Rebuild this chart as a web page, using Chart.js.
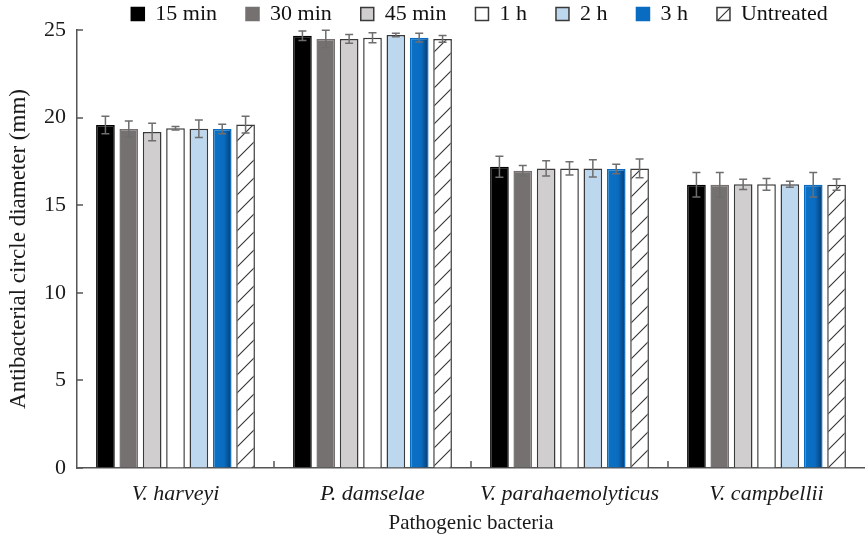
<!DOCTYPE html>
<html lang="en">
  <head>
    <meta charset="UTF-8" />
    <title>Antibacterial circle diameter</title>
    <script src="https://cdn.jsdelivr.net/npm/chart.js"></script>
    <style>
      html, body { margin: 0; padding: 0; background: #fff; overflow: hidden; }
      #chartContainer { width: 865px; height: 540px; }
    </style>
  </head>
  <body>
    <div id="chartContainer">
      <canvas id="myChart" width="865" height="540"></canvas>
    </div>
    <script>
      const categories = ["V. harveyi", "P. damselae", "V. parahaemolyticus", "V. campbellii"];
      const seriesNames = ["15 min", "30 min", "45 min", "1 h", "2 h", "3 h", "Untreated"];

      const min15 = [19.58, 24.67, 17.2, 16.17];
      const min30 = [19.35, 24.49, 16.97, 16.17];
      const min45 = [19.18, 24.49, 17.1, 16.19];
      const hour1 = [19.39, 24.56, 17.1, 16.19];
      const hour2 = [19.37, 24.71, 17.1, 16.19];
      const hour3 = [19.35, 24.56, 17.07, 16.17];
      const untreated = [19.6, 24.49, 17.1, 16.17];

      const err15 = [0.5, 0.27, 0.6, 0.7];
      const err30 = [0.46, 0.5, 0.3, 0.7];
      const err45 = [0.5, 0.25, 0.44, 0.29];
      const err1h = [0.1, 0.29, 0.38, 0.34];
      const err2h = [0.5, 0.1, 0.49, 0.17];
      const err3h = [0.27, 0.25, 0.27, 0.7];
      const errUn = [0.48, 0.19, 0.53, 0.32];

      const yTicks = [0, 5, 10, 15, 20, 25];

      const values = [min15, min30, min45, hour1, hour2, hour3, untreated];
      const errors = [err15, err30, err45, err1h, err2h, err3h, errUn];

      // hatch fill for the untreated bars
      function makeHatch() {
        const c = document.createElement("canvas");
        c.width = 18;
        c.height = 18;
        const g = c.getContext("2d");
        g.fillStyle = "#fff";
        g.fillRect(0, 0, 18, 18);
        g.strokeStyle = "#333";
        g.lineWidth = 1.1;
        g.beginPath();
        g.moveTo(0, 18);
        g.lineTo(18, 0);
        g.moveTo(-2, 2);
        g.lineTo(2, -2);
        g.moveTo(16, 20);
        g.lineTo(20, 16);
        g.stroke();
        return g.createPattern(c, "repeat");
      }

      const ctx = document.getElementById("myChart").getContext("2d");
      const hatch = makeHatch();
      const blue = "#0a6cc0";

      // blue bars get a darker right edge
      function blueFill(c) {
        const el = c.element;
        if (!el || el.x == null || el.width == null || isNaN(el.x)) return blue;
        const x0 = el.x - el.width / 2;
        const x1 = el.x + el.width / 2;
        const gr = c.chart.ctx.createLinearGradient(x0, 0, x1, 0);
        gr.addColorStop(0, "#0a72c6");
        gr.addColorStop(0.6, blue);
        gr.addColorStop(1, "#063a6e");
        return gr;
      }

      const fills = ["#000000", "#767171", "#d0cece", "#ffffff", "#bdd7ee", blueFill, hatch];
      const borders = ["#000000", "#767171", "#3a3a3a", "#3a3a3a", "#3a3a3a", blue, "#3a3a3a"];

      const errorBars = {
        id: "errorBars",
        afterDatasetsDraw(chart) {
          const y = chart.scales.y;
          const g = chart.ctx;
          g.save();
          g.strokeStyle = "#6e6e6e";
          g.lineWidth = 1.5;
          chart.data.datasets.forEach((ds, i) => {
            const meta = chart.getDatasetMeta(i);
            meta.data.forEach((bar, j) => {
              const v = ds.data[j];
              const e = errors[i][j];
              const top = y.getPixelForValue(v + e);
              const bot = y.getPixelForValue(v - e);
              g.beginPath();
              g.moveTo(bar.x, top);
              g.lineTo(bar.x, bot);
              g.moveTo(bar.x - 4, top);
              g.lineTo(bar.x + 4, top);
              g.moveTo(bar.x - 4, bot);
              g.lineTo(bar.x + 4, bot);
              g.stroke();
            });
          });
          g.restore();
        },
      };

      // inward ticks: y values and boundaries between the groups
      const inwardTicks = {
        id: "inwardTicks",
        afterDraw(chart) {
          const x = chart.scales.x;
          const y = chart.scales.y;
          const area = chart.chartArea;
          const g = chart.ctx;
          g.save();
          g.strokeStyle = "#555";
          g.lineWidth = 1.5;
          for (let k = 0; k < categories.length - 1; k++) {
            const px = Math.round(x.getPixelForValue(k + 0.5));
            g.beginPath();
            g.moveTo(px, area.bottom);
            g.lineTo(px, area.bottom - 7);
            g.stroke();
          }
          yTicks.forEach((v) => {
            const py = Math.round(y.getPixelForValue(v));
            g.beginPath();
            g.moveTo(area.left, py);
            g.lineTo(area.left + 6, py);
            g.stroke();
          });
          g.restore();
        },
      };

      const legendPad = 29;
      const legendShift = 47;
      const legendPlace = {
        id: "legendPlace",
        beforeInit(chart) {
          const fit = chart.legend.fit;
          chart.legend.fit = function () {
            fit.bind(chart.legend)();
            this.height = 30;
          };
        },
        beforeDraw(chart) {
          // keep the wide gaps between items but sit the row at the top
          const lg = chart.legend;
          lg.top = 14 - 11 - legendPad;
          lg.left = legendShift;
          lg.right = chart.width + legendShift;
        },
      };

      const data = {
        labels: categories,
        datasets: seriesNames.map((name, i) => ({
          label: name,
          data: values[i],
          backgroundColor: fills[i],
          borderColor: borders[i],
          borderWidth: 1.5,
          categoryPercentage: 0.83,
          barPercentage: 0.8,
        })),
      };

      const serif = "'Liberation Serif', 'Times New Roman', serif";

      const chart = new Chart(ctx, {
        type: "bar",
        data: data,
        options: {
          responsive: false,
          animation: false,
          layout: { padding: { left: 0, right: 0, top: 0, bottom: 0 } },
          scales: {
            x: {
              grid: { display: false, offset: true },
              border: { display: true, color: "#555", width: 1.5 },
              ticks: {
                color: "#1a1a1a",
                padding: 5,
                font: { family: serif, size: 22, style: "italic" },
              },
              title: {
                display: true,
                text: "Pathogenic bacteria",
                color: "#1a1a1a",
                font: { family: serif, size: 21 },
                padding: { top: 3 },
              },
              afterFit: (s) => { s.height = 72; },
            },
            y: {
              min: 0,
              max: 25,
              afterBuildTicks: (s) => { s.ticks = yTicks.map((v) => ({ value: v })); },
              grid: { drawOnChartArea: false, drawTicks: false },
              border: { display: true, color: "#555", width: 1.5 },
              ticks: {
                color: "#1a1a1a",
                padding: 11,
                font: { family: serif, size: 22 },
              },
              title: {
                display: true,
                text: "Antibacterial circle diameter (mm)",
                color: "#1a1a1a",
                font: { family: serif, size: 23 },
                padding: { top: 5, bottom: 0 },
              },
              afterFit: (s) => { s.width = 77; },
            },
          },
          plugins: {
            legend: {
              display: true,
              position: "top",
              labels: {
                color: "#111",
                boxWidth: 13,
                boxHeight: 13,
                padding: legendPad,
                font: { family: serif, size: 22 },
                generateLabels: (chart) => {
                  const items = Chart.defaults.plugins.legend.labels.generateLabels(chart);
                  items[5].fillStyle = blue;
                  items[5].strokeStyle = blue;
                  return items;
                },
              },
            },
            tooltip: { enabled: false },
          },
        },
        plugins: [errorBars, inwardTicks, legendPlace],
      });

      // second pass so the blue gradient can use the bar positions
      chart.update("none");
    </script>
  </body>
</html>
